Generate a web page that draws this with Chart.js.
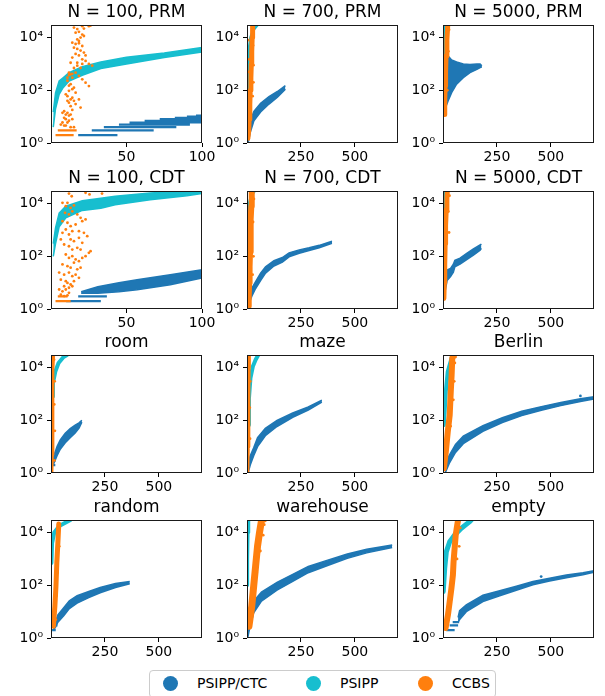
<!DOCTYPE html>
<html>
<head>
<meta charset="utf-8">
<script src="https://cdn.jsdelivr.net/npm/chart.js"></script>
<style>
  html, body { margin: 0; padding: 0; background: #fff; overflow: hidden; }
  #fig { position: relative; width: 605px; height: 696px; }
  #fig canvas { position: absolute; }
  #legend { position: absolute; left: 149px; top: 670px; width: 347px; height: 28px;
    border: 1px solid #ccc; border-radius: 4px; box-sizing: border-box;
    font: 14px 'DejaVu Sans', sans-serif; color: #000; }
  .mk { position: absolute; top: 5px; width: 15px; height: 15px; border-radius: 50%; }
  .lb { position: absolute; top: 4px; line-height: 17px; }
</style>
</head>
<body>
<div id="fig"><div id="legend"></div></div>
<script>
const seriesNames = ['PSIPP/CTC', 'PSIPP', 'CCBS'];
const seriesColors = ['#1f77b4', '#17becf', '#ff7f0e'];

const smallTicks = [50, 100];
const agentTicks = [250, 500];
const yTicks = [1, 100, 10000];
const yTickLabels = ['10\u2070', '10\u00b2', '10\u2074'];

// N = 100, PRM
const prm100CtcSteps = [[1, 11, 33], [2, 18, 44], [3, 27, 68], [4, 35, 83], [5, 45, 92], [6, 52, 100], [7, 62, 100], [8, 72, 100], [9, 82, 100], [10, 90, 100], [11, 96, 100]];
const prm100PsippX = [1.5, 3, 5.4, 8, 12, 20.7, 33, 50, 75, 100];
const prm100PsippLo = [4, 20, 70, 125, 225, 370, 665, 1000, 1740, 2830];
const prm100PsippHi = [15, 80, 225, 300, 470, 790, 1180, 1800, 2600, 4200];
const prm100CcbsSteps = [[1, 1.5, 12.5], [2, 3, 15], [3, 4.5, 17]];
const prm100CcbsDots = [[15.2, 24000], [20.7, 27000], [25.1, 27000], [26.2, 28500], [16.3, 15400], [18.5, 16500], [20.7, 13000], [19.6, 10000], [21.8, 11500], [17.4, 8500], [14.1, 6400], [16.3, 5700], [18.5, 6100], [20.7, 4800], [15.2, 4150], [17.4, 3700], [19.6, 3200], [21.8, 2700], [16.3, 2400], [18.5, 2100], [14.1, 1740], [20.7, 1500], [22.9, 1300], [13, 1110], [17.4, 1110], [25.1, 1000], [27.3, 860], [15.2, 700], [19.6, 700], [11.9, 465], [14.1, 420], [16.3, 465], [18.5, 350], [10.9, 300], [20.7, 260], [22.9, 194], [25.1, 145], [13, 170], [15.2, 126], [11.9, 95], [16.3, 81], [9.8, 70], [14.1, 52], [18.5, 45], [10.9, 40], [16.3, 30], [13, 25], [19.6, 22], [7.6, 14], [9.8, 12], [11.9, 11], [8.7, 9], [14.1, 8], [10.9, 6], [6.5, 5], [9.8, 4.6], [13, 4], [15.2, 4], [11.9, 380], [13, 400], [14.1, 300], [10.9, 230], [11.9, 150], [14.1, 110], [10.9, 60], [13, 45], [15.2, 40], [11.9, 34], [14.1, 18], [8.7, 16], [10.9, 14], [13, 12], [9.8, 8], [11.9, 7], [7.6, 6], [8.7, 4.6], [17.4, 860], [20.7, 1000], [18.5, 7400], [22.9, 2100], [17.4, 21000], [21.8, 22000]];

// N = 700, PRM
const prm700CtcX = [5, 15, 32, 63, 102, 141, 178];
const prm700CtcLo = [1, 2.5, 7, 15, 30, 55, 110];
const prm700CtcHi = [3, 7, 16, 32, 58, 90, 150];
const prm700Psipp = [[2, 10], [4, 300], [8, 3000], [17, 10000], [30, 20000], [48, 30000]];
const prm700Ccbs = [[4, 1.5], [8, 3], [10, 8], [13, 30], [15, 100], [18, 300], [20, 1000], [22, 3000], [24, 10000], [26, 30000]];
const prm700CcbsDots = [[30, 200], [28, 5000], [8, 40], [32, 20000], [10, 1500], [26, 60], [6, 500], [30, 900], [5, 8000]];

// N = 5000, PRM
const prm5000CtcX = [9, 24, 40, 63, 94, 125, 157, 172, 180];
const prm5000CtcLo = [19, 40, 81, 170, 300, 465, 620, 720, 780];
const prm5000CtcHi = [2680, 2000, 1400, 1200, 1000, 950, 1000, 1000, 860];
const prm5000Psipp = [[2, 1000], [3, 5000], [5, 15000], [8, 30000]];
const prm5000Ccbs = [[6, 12], [8, 40], [10, 150], [12, 500], [14, 2000], [18, 8000], [22, 30000]];
const prm5000CcbsDots = [[25, 3000], [4, 400], [20, 100], [28, 20000]];

// N = 100, CDT
const cdt100CtcSteps = [[1, 10, 20], [2, 10, 33], [3, 18, 37]];
const cdt100CtcX = [20, 31, 45, 57, 79, 100];
const cdt100CtcLo = [4, 4, 4.5, 5.4, 8.3, 15];
const cdt100CtcHi = [4.5, 7, 10, 13, 20, 31];
const cdt100PsippX = [1.5, 3, 5.4, 9.8, 20.7, 33, 42.5, 65.7, 90, 100];
const cdt100PsippLo = [100, 300, 1300, 2900, 5500, 6700, 9000, 14000, 20000, 24000];
const cdt100PsippHi = [300, 1200, 4300, 8000, 12700, 16000, 19000, 25000, 30000, 30000];
const cdt100CcbsSteps = [[1, 1, 6], [2, 3, 13], [3, 4.5, 11]];
const cdt100CcbsDots = [[11.9, 24000], [13.7, 19000], [22.9, 25700], [25.5, 22300], [33.8, 24000], [7.6, 10700], [9.8, 8000], [10.9, 10700], [13, 6900], [15.2, 8500], [9.3, 4470], [11.9, 3870], [14.1, 5100], [17.4, 3870], [19.6, 2880], [22.9, 2500], [7.6, 2150], [10.9, 1870], [13, 1390], [16.3, 1610], [20.7, 2150], [7.6, 780], [9.8, 1040], [11.9, 670], [14.1, 900], [18.5, 900], [21.8, 780], [24, 580], [6.5, 435], [13, 435], [15.2, 375], [18.5, 500], [20.7, 325], [8.7, 280], [11.9, 240], [14.1, 180], [17.4, 210], [19.6, 180], [25.1, 135], [26.2, 156], [9.8, 117], [11.9, 87], [14.1, 101], [16.3, 76], [18.5, 65], [20.7, 87], [22.9, 101], [7.6, 49], [10.9, 42], [13, 37], [15.2, 57], [17.4, 32], [19.6, 37], [5.4, 24], [8.7, 20], [11.9, 24], [14.1, 17.6], [16.3, 20], [18.5, 15.3], [6.5, 13], [9.8, 11.4], [10.9, 9.8], [13, 8.5], [15.2, 11.4], [8.7, 7.3], [11.9, 6.4], [14.1, 7.3], [5.4, 5.5], [7.6, 4.7], [9.8, 5.5], [11.9, 4.1], [6.5, 3.5], [8.7, 3.1], [10.9, 3.3]];

// N = 700, CDT
const cdt700CtcX = [5, 12, 24, 40, 63, 86, 125, 164, 195, 242, 288, 335, 394];
const cdt700CtcLo = [1, 1.8, 3.3, 6, 12, 23, 43, 60, 95, 130, 165, 210, 310];
const cdt700CtcHi = [2.5, 4, 6.5, 11, 23, 40, 68, 90, 135, 175, 210, 260, 370];
const cdt700Psipp = [[2, 50], [3, 500], [5, 3000], [10, 10000], [20, 20000], [35, 30000]];
const cdt700Ccbs = [[5, 1.3], [8, 3], [10, 10], [12, 40], [14, 150], [16, 600], [18, 2500], [20, 8000], [22, 30000]];
const cdt700CcbsDots = [[30, 100], [28, 2000], [6, 300], [32, 15000], [26, 20]];

// N = 5000, CDT
const cdt5000CtcX = [8, 19, 35, 48, 55, 79, 110, 141, 172, 178];
const cdt5000CtcLo = [4, 12, 17, 25, 40, 50, 75, 110, 170, 200];
const cdt5000CtcHi = [10, 30, 35, 50, 70, 85, 130, 190, 270, 290];
const cdt5000Psipp = [[2, 300], [3, 3000], [5, 10000], [8, 30000]];
const cdt5000Ccbs = [[4, 2.5], [6, 10], [8, 50], [10, 300], [12, 1500], [15, 6000], [18, 15000], [20, 30000]];
const cdt5000CcbsDots = [[28, 800], [25, 5000], [6, 200], [30, 20000]];

// room
const roomCtcSteps = [[1, 5, 12], [2, 5, 20], [3, 8, 22]];
const roomCtcX = [10, 15, 28, 43, 66, 89, 112, 130, 143];
const roomCtcLo = [2, 2.5, 4.5, 8, 14, 22, 33, 50, 85];
const roomCtcHi = [3, 5, 10, 18, 32, 48, 65, 80, 100];
const roomPsipp = [[1.5, 140], [5, 800], [9, 2600], [20, 7100], [35, 14800], [58, 25000], [74, 30000]];
const roomCcbs = [[3, 1], [5, 5], [6, 30], [7, 200], [8, 1500], [9, 8000], [11, 30000]];
const roomCcbsDots = [[16, 3], [18, 40], [15, 400], [17, 3000], [14, 20000], [4, 100]];

// maze
const mazeCtcX = [5, 15, 31, 49, 85, 139, 212, 284, 347];
const mazeCtcLo = [1, 2, 4.5, 10, 26, 58, 130, 245, 490];
const mazeCtcHi = [2.5, 4.5, 9, 22, 50, 98, 190, 320, 580];
const mazePsipp = [[5, 66], [9, 680], [16, 4000], [27, 11000], [40, 19700], [52, 30000]];
const mazeCcbs = [[4, 1], [6, 10], [8, 100], [9, 1000], [10, 10000], [11, 30000]];
const mazeCcbsDots = [[14, 20], [13, 300], [15, 3000]];

// Berlin
const berlinCtcX = [10, 31, 58, 94, 185, 275, 365, 456, 546, 637, 700];
const berlinCtcLo = [1, 2.5, 6, 13, 38, 82, 150, 240, 360, 520, 650];
const berlinCtcHi = [2.5, 5, 12, 25, 62, 125, 220, 330, 470, 650, 780];
const berlinCtcDots = [[637, 840]];
const berlinPsipp = [[4, 66], [13, 1230], [22, 7100], [40, 23000], [54, 30000]];
const berlinCcbs = [[4, 1.5], [13, 6.3], [22, 36], [31, 158], [36, 1230], [40, 5300], [43, 23000], [49, 30000]];
const berlinCcbsDots = [[55, 15000], [52, 3000], [35, 60], [48, 600], [58, 25000]];

// random
const randomCtcSteps = [[1, 3, 10], [2, 5, 22], [3, 10, 30]];
const randomCtcX = [10, 20, 32, 59, 85, 121, 175, 228, 299, 365];
const randomCtcLo = [2, 2.5, 4, 7, 13, 21, 34, 52, 82, 115];
const randomCtcHi = [3, 4, 7.5, 14, 26, 40, 58, 82, 118, 140];
const randomPsipp = [[2, 700], [5, 4000], [15, 10000], [40, 18000], [90, 30000]];
const randomCcbs = [[11, 2.8], [18, 16], [23, 93], [27, 720], [32, 4200], [36, 21000]];
const randomCcbsDots = [[22, 5], [30, 300], [38, 3000], [25, 40]];

// warehouse
const warehouseCtcX = [3, 13, 31, 67, 139, 212, 284, 374, 465, 555, 673];
const warehouseCtcLo = [1, 2.5, 9, 25, 65, 140, 300, 560, 1050, 1700, 2700];
const warehouseCtcHi = [3, 9, 25, 55, 130, 260, 520, 900, 1550, 2350, 3400];
const warehousePsipp = [[2, 100], [3, 1000], [5, 10000], [8, 30000]];
const warehouseCcbs = [[9, 2.8], [22, 16], [31, 93], [40, 540], [49, 3100], [58, 10000], [67, 28000], [70, 30000]];
const warehouseCcbsDots = [[80, 20000], [75, 8000], [62, 2000], [85, 28000], [45, 300], [30, 40]];

// empty
const emptyCtcSteps = [[1, 8, 25], [2, 15, 54], [3, 31, 70], [4, 45, 75]];
const emptyCtcX = [70, 77, 108, 185, 263, 340, 417, 494, 572, 649, 700];
const emptyCtcLo = [4, 5, 10, 24, 40, 65, 105, 145, 195, 250, 310];
const emptyCtcHi = [6, 11, 18, 42, 62, 92, 140, 185, 245, 300, 360];
const emptyCtcDots = [[455, 215]];
const emptyPsipp = [[1, 58], [8, 450], [15.6, 1900], [31, 4500], [54, 8100], [85, 14500], [124, 26000], [131, 30000]];
const emptyCcbs = [[12, 2.4], [23, 7.6], [31, 24], [39, 77], [46, 250], [49, 800], [54, 2600], [59, 8100], [66, 19500], [70, 30000]];
const emptyCcbsDots = [[75, 3000], [65, 1000], [40, 30], [80, 15000], [20, 4]];

// layout
const colLeft = [51, 247, 443];
const rowTop = [25, 191, 355, 520];
const boxW = 151, boxH = 118, yAxisW = 51, titleH = 30, xAxisH = 22, padRight = 16;

const panels = [
  { title: 'N = 100, PRM', row: 0, col: 0, xMax: 100, xTicks: smallTicks,
    ctc: { steps: prm100CtcSteps },
    psipp: { band: [prm100PsippX, prm100PsippLo, prm100PsippHi] },
    ccbs: { steps: prm100CcbsSteps, dots: prm100CcbsDots } },
  { title: 'N = 700, PRM', row: 0, col: 1, xMax: 700, xTicks: agentTicks,
    ctc: { band: [prm700CtcX, prm700CtcLo, prm700CtcHi] },
    psipp: { path: prm700Psipp, width: 3 },
    ccbs: { path: prm700Ccbs, width: 5, dots: prm700CcbsDots } },
  { title: 'N = 5000, PRM', row: 0, col: 2, xMax: 700, xTicks: agentTicks,
    ctc: { band: [prm5000CtcX, prm5000CtcLo, prm5000CtcHi] },
    psipp: { path: prm5000Psipp, width: 3 },
    ccbs: { path: prm5000Ccbs, width: 5, dots: prm5000CcbsDots } },
  { title: 'N = 100, CDT', row: 1, col: 0, xMax: 100, xTicks: smallTicks,
    ctc: { steps: cdt100CtcSteps, band: [cdt100CtcX, cdt100CtcLo, cdt100CtcHi] },
    psipp: { band: [cdt100PsippX, cdt100PsippLo, cdt100PsippHi] },
    ccbs: { steps: cdt100CcbsSteps, dots: cdt100CcbsDots } },
  { title: 'N = 700, CDT', row: 1, col: 1, xMax: 700, xTicks: agentTicks,
    ctc: { band: [cdt700CtcX, cdt700CtcLo, cdt700CtcHi] },
    psipp: { path: cdt700Psipp, width: 3 },
    ccbs: { path: cdt700Ccbs, width: 6, dots: cdt700CcbsDots } },
  { title: 'N = 5000, CDT', row: 1, col: 2, xMax: 700, xTicks: agentTicks,
    ctc: { band: [cdt5000CtcX, cdt5000CtcLo, cdt5000CtcHi] },
    psipp: { path: cdt5000Psipp, width: 3 },
    ccbs: { path: cdt5000Ccbs, width: 5, dots: cdt5000CcbsDots } },
  { title: 'room', row: 2, col: 0, xMax: 700, xTicks: agentTicks,
    ctc: { steps: roomCtcSteps, band: [roomCtcX, roomCtcLo, roomCtcHi] },
    psipp: { path: roomPsipp, width: 4 },
    ccbs: { path: roomCcbs, width: 3.5, dots: roomCcbsDots } },
  { title: 'maze', row: 2, col: 1, xMax: 700, xTicks: agentTicks,
    ctc: { band: [mazeCtcX, mazeCtcLo, mazeCtcHi] },
    psipp: { path: mazePsipp, width: 4 },
    ccbs: { path: mazeCcbs, width: 3, dots: mazeCcbsDots } },
  { title: 'Berlin', row: 2, col: 2, xMax: 700, xTicks: agentTicks,
    ctc: { band: [berlinCtcX, berlinCtcLo, berlinCtcHi], dots: berlinCtcDots },
    psipp: { path: berlinPsipp, width: 4 },
    ccbs: { path: berlinCcbs, width: 6, dots: berlinCcbsDots } },
  { title: 'random', row: 3, col: 0, xMax: 700, xTicks: agentTicks,
    ctc: { steps: randomCtcSteps, band: [randomCtcX, randomCtcLo, randomCtcHi] },
    psipp: { path: randomPsipp, width: 4 },
    ccbs: { path: randomCcbs, width: 5, dots: randomCcbsDots } },
  { title: 'warehouse', row: 3, col: 1, xMax: 700, xTicks: agentTicks,
    ctc: { band: [warehouseCtcX, warehouseCtcLo, warehouseCtcHi] },
    psipp: { path: warehousePsipp, width: 3 },
    ccbs: { path: warehouseCcbs, width: 7, dots: warehouseCcbsDots } },
  { title: 'empty', row: 3, col: 2, xMax: 700, xTicks: agentTicks,
    ctc: { steps: emptyCtcSteps, band: [emptyCtcX, emptyCtcLo, emptyCtcHi], dots: emptyCtcDots },
    psipp: { path: emptyPsipp, width: 5 },
    ccbs: { path: emptyCcbs, width: 6, dots: emptyCcbsDots } }
];

Chart.defaults.font.family = "'DejaVu Sans', sans-serif";
Chart.defaults.color = '#000';

function seriesSets(s, color, order) {
  const sets = [];
  const base = { borderColor: color, pointRadius: 0, clip: 0, tension: 0, fill: false, order };
  if (s.band) {
    const [xs, lo, hi] = s.band;
    sets.push({ ...base, data: xs.map((x, i) => ({ x, y: hi[i] })), backgroundColor: color, borderWidth: 1.5, fill: '+1' });
    sets.push({ ...base, data: xs.map((x, i) => ({ x, y: lo[i] })), borderWidth: 1.5 });
  }
  if (s.steps) {
    const pts = [];
    s.steps.forEach(([y, x1, x2]) => pts.push({ x: x1, y }, { x: x2, y }, { x: x2, y: null }));
    sets.push({ ...base, data: pts, borderWidth: 2.2, borderCapStyle: 'butt' });
  }
  if (s.path) {
    sets.push({ ...base, data: s.path.map(([x, y]) => ({ x, y })), borderWidth: s.width,
      borderCapStyle: 'round', borderJoinStyle: 'round' });
  }
  if (s.dots) {
    sets.push({ ...base, data: s.dots.map(([x, y]) => ({ x, y })), showLine: false,
      pointRadius: 1.4, pointBackgroundColor: color, pointBorderWidth: 0 });
  }
  return sets;
}

const frame = {
  id: 'frame',
  afterDatasetsDraw(chart) {
    const { ctx, chartArea: a } = chart;
    ctx.save();
    ctx.strokeStyle = '#1a1a1a';
    ctx.lineWidth = 1;
    ctx.strokeRect(Math.round(a.left) + 0.5, Math.round(a.top) + 0.5,
      Math.round(a.right - a.left) - 1, Math.round(a.bottom - a.top) - 1);
    ctx.restore();
  }
};

const fig = document.getElementById('fig');

panels.forEach((p) => {
  const canvas = document.createElement('canvas');
  canvas.width = yAxisW + boxW + padRight;
  canvas.height = titleH + boxH + xAxisH;
  canvas.style.left = (colLeft[p.col] - yAxisW) + 'px';
  canvas.style.top = (rowTop[p.row] - titleH) + 'px';
  fig.appendChild(canvas);

  const datasets = [
    ...seriesSets(p.ctc, seriesColors[0], 3),
    ...seriesSets(p.psipp, seriesColors[1], 2),
    ...seriesSets(p.ccbs, seriesColors[2], 1)
  ];

  new Chart(canvas, {
    type: 'line',
    data: { datasets },
    plugins: [frame],
    options: {
      responsive: false,
      animation: false,
      events: [],
      layout: { padding: { left: 0, right: padRight, top: 0, bottom: 0 } },
      plugins: {
        legend: { display: false },
        tooltip: { enabled: false },
        title: {
          display: true,
          fullSize: false,
          text: p.title,
          color: '#000',
          font: { size: 17, weight: 'normal' },
          padding: { top: 7, bottom: 2.6 }
        }
      },
      scales: {
        x: {
          type: 'linear',
          bounds: 'data',
          min: 0,
          max: p.xMax,
          afterBuildTicks: (s) => { s.ticks = p.xTicks.map((v) => ({ value: v })); },
          afterFit: (s) => { s.height = xAxisH; },
          grid: { display: true, drawOnChartArea: false, drawTicks: true, tickLength: 4, tickColor: '#000', lineWidth: 1 },
          border: { display: false },
          ticks: { color: '#000', font: { size: 14 }, padding: 2, maxRotation: 0, autoSkip: false,
            callback: (v) => String(v) }
        },
        y: {
          type: 'logarithmic',
          bounds: 'data',
          min: 1,
          max: 30000,
          afterBuildTicks: (s) => { s.ticks = yTicks.map((v) => ({ value: v })); },
          afterFit: (s) => { s.width = yAxisW; },
          grid: { display: true, drawOnChartArea: false, drawTicks: true, tickLength: 4, tickColor: '#000', lineWidth: 1 },
          border: { display: false },
          ticks: { color: '#000', font: { size: 14 }, padding: 4, autoSkip: false,
            callback: (v) => yTickLabels[yTicks.indexOf(v)] }
        }
      }
    }
  });
});

// legend
const legendX = [21, 164, 276];
const legend = document.getElementById('legend');
seriesNames.forEach((name, i) => {
  const mk = document.createElement('div');
  mk.className = 'mk';
  mk.style.left = (legendX[i] - 8) + 'px';
  mk.style.background = seriesColors[i];
  legend.appendChild(mk);
  const lb = document.createElement('div');
  lb.className = 'lb';
  lb.style.left = (legendX[i] + 26) + 'px';
  lb.textContent = name;
  legend.appendChild(lb);
});
</script>
</body>
</html>
